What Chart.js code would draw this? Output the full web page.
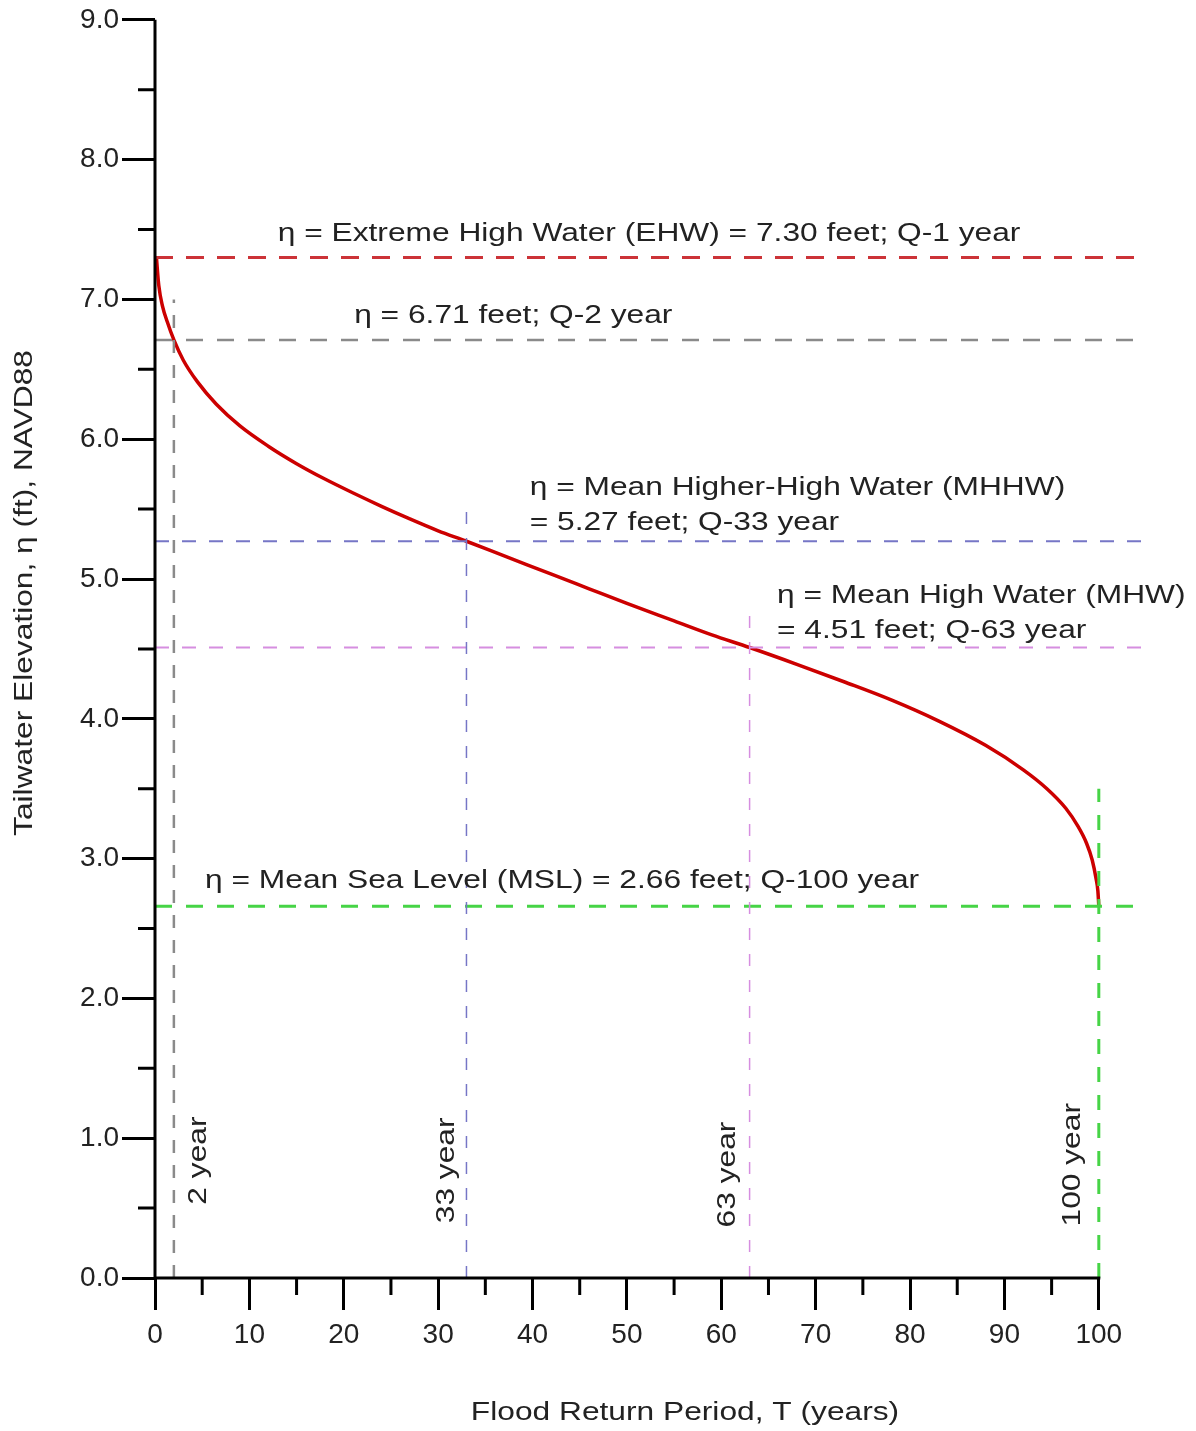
<!DOCTYPE html>
<html>
<head>
<meta charset="utf-8">
<script src="https://cdn.jsdelivr.net/npm/chart.js@4.4.1/dist/chart.umd.min.js"></script>
<style>
    html, body { margin: 0; padding: 0; background: #fff; }
    #wrap { width: 1196px; height: 1431px; }
</style>
</head>
<body>
<div id="wrap"><canvas id="tailwater"></canvas></div>
<script>
    // tailwater curve
    const returnPeriod = [0.15, 0.4, 0.8, 1.3, 2, 3, 4.5, 6.5, 9, 12, 15, 18, 21, 24, 27, 30, 33, 37, 42, 46, 50,
        55, 59, 63, 68, 73, 78, 83, 88, 92, 94.5, 96.5, 97.8, 98.7, 99.3, 99.7, 99.9, 100];
    const elevation = [7.30, 7.10, 6.95, 6.84, 6.71, 6.565, 6.41, 6.25, 6.095, 5.95, 5.825, 5.715, 5.615, 5.52, 5.43, 5.345, 5.27, 5.165, 5.035, 4.93, 4.825,
        4.70, 4.60, 4.51, 4.39, 4.265, 4.135, 3.985, 3.81, 3.635, 3.50, 3.36, 3.23, 3.11, 2.99, 2.86, 2.77, 2.66];

    // reference water levels (ft) and matching return periods
    const levelValues = [7.30, 6.71, 5.27, 4.51, 2.66];
    const levelPeriods = [1, 2, 33, 63, 100];
    const levelColors = ['#cc3338', '#8a8a8a', '#7676c6', '#d68ee0', '#46d446'];
    const guideTops = [null, 7.0, 5.55, 4.8, 3.5];   // top of the vertical guide lines

    const xTicks = [0, 10, 20, 30, 40, 50, 60, 70, 80, 90, 100];
    const xMinorTicks = [5, 15, 25, 35, 45, 55, 65, 75, 85, 95];
    const yTicks = [0, 1, 2, 3, 4, 5, 6, 7, 8, 9];
    const yMinorTicks = [0.5, 1.5, 2.5, 3.5, 4.5, 5.5, 6.5, 7.5, 8.5];
    const xEnd = 105;

    const FONT = 'Arial, "Liberation Sans", sans-serif';
    const TEXT = '#222';
    const STRETCH = 1.22;   // the original lettering is a bit wide

    const hWidth = [3, 2.5, 2, 2, 3];
    const hDash = [[18, 13], [17, 14], [14, 13], [14, 13], [17, 14]];
    const vWidth = [0, 2.5, 1.5, 1.5, 3];
    const vDash = [[], [13, 12], [12, 14], [12, 14], [15, 13]];

    const datasets = [];
    levelValues.forEach(function(v, i) {
        datasets.push({
            data: [{x: 0, y: v}, {x: xEnd, y: v}],
            borderColor: levelColors[i],
            borderWidth: hWidth[i],
            borderDash: hDash[i],
            showLine: true,
            pointRadius: 0
        });
        if (guideTops[i] !== null) {
            datasets.push({
                data: [{x: levelPeriods[i], y: 0}, {x: levelPeriods[i], y: guideTops[i]}],
                borderColor: levelColors[i],
                borderWidth: vWidth[i],
                borderDash: vDash[i],
                showLine: true,
                pointRadius: 0
            });
        }
    });
    datasets.push({
        data: returnPeriod.map(function(t, i) { return {x: t, y: elevation[i]}; }),
        borderColor: '#cc0000',
        borderWidth: 3.5,
        showLine: true,
        pointRadius: 0,
        cubicInterpolationMode: 'monotone'
    });

    // annotation texts (data coordinates)
    const notes = [
        {text: 'η = Extreme High Water (EHW) = 7.30 feet; Q-1 year', x: 13.0, y: 7.47},
        {text: 'η = 6.71 feet; Q-2 year', x: 21.1, y: 6.88},
        {text: 'η = Mean Higher-High Water (MHHW)', x: 39.7, y: 5.65},
        {text: '= 5.27 feet; Q-33 year', x: 39.7, y: 5.40},
        {text: 'η = Mean High Water (MHW)', x: 65.9, y: 4.88},
        {text: '= 4.51 feet; Q-63 year', x: 65.9, y: 4.63},
        {text: 'η = Mean Sea Level (MSL) = 2.66 feet; Q-100 year', x: 5.3, y: 2.84}
    ];
    const sideNotes = [
        {text: '2 year', x: 4.6, y: 0.84},
        {text: '33 year', x: 30.9, y: 0.77},
        {text: '63 year', x: 60.7, y: 0.74},
        {text: '100 year', x: 97.2, y: 0.81}
    ];

    function wideText(c, text, x, y, rot, align) {
        c.save();
        c.translate(x, y);
        c.rotate(rot);
        c.scale(STRETCH, 1);
        c.textAlign = align;
        c.fillText(text, 0, 0);
        c.restore();
    }

    const decorations = {
        id: 'decorations',
        afterDraw: function(chart) {
            const c = chart.ctx;
            const xs = chart.scales.x, ys = chart.scales.y;
            const x0 = xs.getPixelForValue(0), x100 = xs.getPixelForValue(100);
            const y0 = ys.getPixelForValue(0), y9 = ys.getPixelForValue(9);
            c.save();
            c.strokeStyle = '#000';
            c.lineWidth = 3;
            c.beginPath();
            c.moveTo(x0, y9); c.lineTo(x0, y0 + 1.5);
            c.moveTo(x0 - 1.5, y0); c.lineTo(x100 + 1.5, y0);
            xMinorTicks.forEach(function(v) {
                const px = xs.getPixelForValue(v);
                c.moveTo(px, y0); c.lineTo(px, y0 + 17);
            });
            yMinorTicks.forEach(function(v) {
                const py = ys.getPixelForValue(v);
                c.moveTo(x0, py); c.lineTo(x0 - 17, py);
            });
            c.stroke();

            c.fillStyle = TEXT;
            c.font = '26px ' + FONT;
            c.textBaseline = 'middle';
            notes.forEach(function(n) {
                wideText(c, n.text, xs.getPixelForValue(n.x), ys.getPixelForValue(n.y), 0, 'left');
            });
            sideNotes.forEach(function(n) {
                wideText(c, n.text, xs.getPixelForValue(n.x), ys.getPixelForValue(n.y), -Math.PI / 2, 'center');
            });

            // axis titles
            wideText(c, 'Flood Return Period, T (years)', x0 + 530, y0 + 135, 0, 'center');
            wideText(c, 'Tailwater Elevation, η (ft), NAVD88', x0 - 130, ys.getPixelForValue(4.9), -Math.PI / 2, 'center');
            c.restore();
        }
    };

    const ctx = document.getElementById('tailwater').getContext('2d');
    const chart = new Chart(ctx, {
        type: 'scatter',
        data: { datasets: datasets },
        options: {
            responsive: true,
            maintainAspectRatio: false,
            animation: false,
            layout: { padding: { top: 19, right: 50, left: 0, bottom: 0 } },
            plugins: {
                legend: { display: false },
                tooltip: { enabled: false }
            },
            scales: {
                x: {
                    type: 'linear',
                    min: 0,
                    max: xEnd,
                    afterBuildTicks: function(scale) {
                        scale.ticks = xTicks.map(function(v) { return {value: v}; });
                    },
                    afterFit: function(scale) { scale.height = 153; },
                    ticks: {
                        color: TEXT,
                        font: { family: FONT, size: 28 },
                        padding: 8,
                        maxRotation: 0,
                        callback: function(v) { return v; }
                    },
                    grid: {
                        drawOnChartArea: false,
                        drawTicks: true,
                        tickLength: 32,
                        tickWidth: 3,
                        tickColor: '#000'
                    },
                    border: { display: false }
                },
                y: {
                    type: 'linear',
                    min: 0,
                    max: 9,
                    afterBuildTicks: function(scale) {
                        scale.ticks = yTicks.map(function(v) { return {value: v}; });
                    },
                    afterFit: function(scale) { scale.width = 155; },
                    ticks: {
                        color: TEXT,
                        font: { family: FONT, size: 28 },
                        padding: 3,
                        callback: function(v) { return Number(v).toFixed(1); }
                    },
                    grid: {
                        drawOnChartArea: false,
                        drawTicks: true,
                        tickLength: 33,
                        tickWidth: 3,
                        tickColor: '#000'
                    },
                    border: { display: false }
                }
            }
        },
        plugins: [decorations]
    });
</script>
</body>
</html>
